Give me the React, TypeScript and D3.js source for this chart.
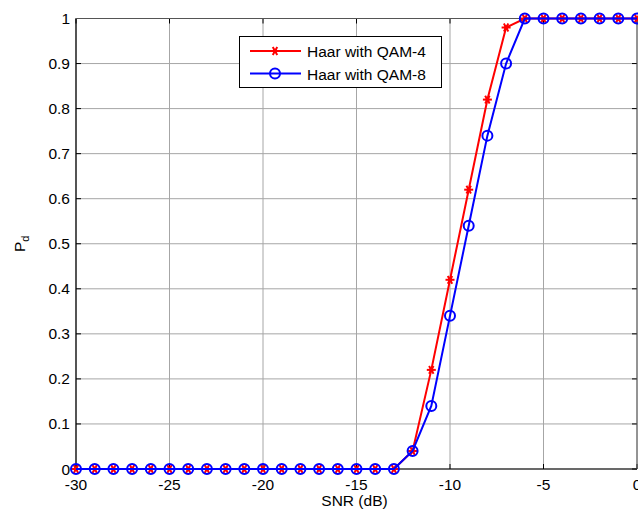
import { useEffect, useRef } from 'react';
import * as d3 from 'd3';

const snr = d3.range(-30, 1);
const qam4 = [0, 0, 0, 0, 0, 0, 0, 0, 0, 0, 0, 0, 0, 0, 0, 0, 0, 0, 0.04, 0.22, 0.42, 0.62, 0.82, 0.98, 1, 1, 1, 1, 1, 1, 1];
const qam8 = [0, 0, 0, 0, 0, 0, 0, 0, 0, 0, 0, 0, 0, 0, 0, 0, 0, 0, 0.04, 0.14, 0.34, 0.54, 0.74, 0.9, 1, 1, 1, 1, 1, 1, 1];
const xTicks = [-30, -25, -20, -15, -10, -5, 0];
const yTicks = d3.range(0, 11).map((i) => i / 10);
const seriesNames = ['Haar with QAM-4', 'Haar with QAM-8'];

const W = 638, H = 516;
const FONT = 'Liberation Sans, Arial, sans-serif';
const FS = 15.5;

export default function App() {
  const svgRef = useRef<SVGSVGElement>(null);

  useEffect(() => {
    const svg = d3.select(svgRef.current!);
    svg.selectAll('*').remove();

    const m = { left: 76, right: 637, top: 18.5, bottom: 469 };
    const x = d3.scaleLinear().domain([-30, 0]).range([m.left, m.right]);
    const y = d3.scaleLinear().domain([0, 1]).range([m.bottom, m.top]);

    svg.append('rect').attr('width', W).attr('height', H).attr('fill', '#fff');

    // Grid
    const grid = svg.append('g').attr('stroke', '#a6a6a6').attr('stroke-width', 1);
    xTicks.forEach((t) => {
      grid.append('line').attr('x1', x(t)).attr('x2', x(t)).attr('y1', m.top).attr('y2', m.bottom);
    });
    yTicks.forEach((t) => {
      grid.append('line').attr('x1', m.left).attr('x2', m.right).attr('y1', y(t)).attr('y2', y(t));
    });

    // Tick marks (inside, both sides)
    const ticks = svg.append('g').attr('stroke', '#000').attr('stroke-width', 1);
    xTicks.forEach((t) => {
      ticks.append('line').attr('x1', x(t)).attr('x2', x(t)).attr('y1', m.bottom).attr('y2', m.bottom - 5);
      ticks.append('line').attr('x1', x(t)).attr('x2', x(t)).attr('y1', m.top).attr('y2', m.top + 5);
    });
    yTicks.forEach((t) => {
      ticks.append('line').attr('x1', m.left).attr('x2', m.left + 5).attr('y1', y(t)).attr('y2', y(t));
      ticks.append('line').attr('x1', m.right).attr('x2', m.right - 5).attr('y1', y(t)).attr('y2', y(t));
    });

    // Axes lines
    svg.append('line').attr('x1', m.left).attr('x2', m.left).attr('y1', m.top).attr('y2', m.bottom)
      .attr('stroke', '#000').attr('stroke-width', 1.2);
    svg.append('line').attr('x1', m.left).attr('x2', m.right).attr('y1', m.bottom).attr('y2', m.bottom)
      .attr('stroke', '#000').attr('stroke-width', 1.2);
    svg.append('line').attr('x1', m.left).attr('x2', m.right).attr('y1', m.top).attr('y2', m.top)
      .attr('stroke', '#555').attr('stroke-width', 1);
    svg.append('line').attr('x1', m.right).attr('x2', m.right).attr('y1', m.top).attr('y2', m.bottom)
      .attr('stroke', '#555').attr('stroke-width', 1);

    // Tick labels
    xTicks.forEach((t) => {
      svg.append('text').attr('x', x(t)).attr('y', m.bottom + 21).attr('text-anchor', 'middle')
        .attr('font-family', FONT).attr('font-size', FS).attr('fill', '#000').text(String(t));
    });
    yTicks.forEach((t) => {
      svg.append('text').attr('x', m.left - 6).attr('y', y(t) + 5.5).attr('text-anchor', 'end')
        .attr('font-family', FONT).attr('font-size', FS).attr('fill', '#000')
        .text(t === 0 ? '0' : t === 1 ? '1' : d3.format('.1f')(t));
    });

    // Axis labels
    svg.append('text').attr('x', (m.left + m.right) / 2 - 2).attr('y', 505.5).attr('text-anchor', 'middle')
      .attr('font-family', FONT).attr('font-size', FS).attr('fill', '#000').text('SNR (dB)');
    const yl = svg.append('text').attr('transform', `translate(25,${(m.top + m.bottom) / 2}) rotate(-90)`)
      .attr('text-anchor', 'middle').attr('font-family', FONT).attr('font-size', FS).attr('fill', '#000');
    yl.append('tspan').text('P');
    yl.append('tspan').attr('font-size', 11).attr('dy', 4).text('d');

    const line = d3.line<number>().x((_, i) => x(snr[i])).y((d) => y(d));

    const star = (g: d3.Selection<SVGGElement, unknown, null, undefined>, cx: number, cy: number, r: number) => {
      const s = g.append('g').attr('transform', `translate(${cx},${cy})`).attr('stroke', '#ff0000').attr('stroke-width', 2);
      [0, 60, 120].forEach((a) => {
        const rad = (a * Math.PI) / 180;
        s.append('line').attr('x1', -r * Math.cos(rad)).attr('y1', -r * Math.sin(rad))
          .attr('x2', r * Math.cos(rad)).attr('y2', r * Math.sin(rad));
      });
      s.append('circle').attr('r', 2.2).attr('fill', '#ff0000').attr('stroke', 'none');
    };
    const circ = (g: d3.Selection<SVGGElement, unknown, null, undefined>, cx: number, cy: number) => {
      g.append('circle').attr('cx', cx).attr('cy', cy).attr('r', 5).attr('fill', 'none')
        .attr('stroke', '#0000ff').attr('stroke-width', 2);
    };

    const plot = svg.append('g');
    plot.append('path').attr('d', line(qam4)).attr('fill', 'none').attr('stroke', '#ff0000').attr('stroke-width', 2);
    const g4 = plot.append('g');
    qam4.forEach((v, i) => star(g4, x(snr[i]), y(v), 4.5));
    plot.append('path').attr('d', line(qam8)).attr('fill', 'none').attr('stroke', '#0000ff').attr('stroke-width', 2);
    const g8 = plot.append('g');
    qam8.forEach((v, i) => circ(g8, x(snr[i]), y(v)));

    // Legend
    const lg = svg.append('g');
    lg.append('rect').attr('x', 239.5).attr('y', 36.5).attr('width', 202).attr('height', 51)
      .attr('fill', '#fff').attr('stroke', '#000').attr('stroke-width', 1);
    const rows = [51, 73.5];
    lg.append('line').attr('x1', 250).attr('x2', 301).attr('y1', rows[0]).attr('y2', rows[0]).attr('stroke', '#ff0000').attr('stroke-width', 2);
    star(lg, 275, rows[0], 4.5);
    lg.append('line').attr('x1', 250).attr('x2', 301).attr('y1', rows[1]).attr('y2', rows[1]).attr('stroke', '#0000ff').attr('stroke-width', 2);
    circ(lg, 275, rows[1]);
    seriesNames.forEach((n, i) => {
      lg.append('text').attr('x', 307).attr('y', rows[i] + 6).attr('font-family', FONT).attr('font-size', FS)
        .attr('fill', '#000').text(n);
    });
  }, []);

  return (
    <svg ref={svgRef} width={W} height={H} style={{ position: 'absolute', left: 0, top: 0, display: 'block' }} />
  );
}
